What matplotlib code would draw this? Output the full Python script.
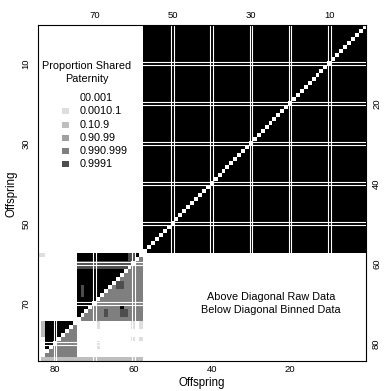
import numpy as np
import matplotlib.pyplot as plt
from matplotlib.colors import ListedColormap, BoundaryNorm
from matplotlib.patches import Rectangle

plt.rcParams['font.family'] = ['Liberation Sans', 'DejaVu Sans']

n_offspring = 84

# full-sib groups (first, last offspring)
groups = [(1, 57), (58, 74), (75, 82)]
group_raw = [1.0, 1.0, 1.0]          # above diagonal
group_binned = [1.0, 0.995, 0.995]   # below diagonal

# offspring with lower raw values against the rest of their group
weak_raw = {60: 0.7, 61: 0.7}

# single raw cells above the diagonal (row, col, value)
raw_cells = [
    (58, 83, 0.13), (58, 84, 0.13),
    (66, 73, 0.7), (67, 73, 0.7), (68, 73, 0.7),
    (75, 83, 0.27), (76, 83, 0.27), (77, 83, 0.27), (78, 83, 0.27),
]

# single binned cells below the diagonal (row, col, value)
binned_cells = [
    (65, 63, 0.9995), (65, 64, 0.9995), (66, 63, 0.9995), (66, 64, 0.9995),
    (72, 67, 0.9995), (73, 67, 0.9995),
    (72, 62, 0.9995), (72, 63, 0.9995), (73, 62, 0.9995), (73, 63, 0.9995),
    (71, 63, 1.0),
    (75, 69, 0.05), (76, 69, 0.05), (80, 69, 0.05), (81, 69, 0.05),
    (75, 60, 0.05), (76, 60, 0.05), (75, 58, 0.05), (76, 58, 0.05),
    (79, 60, 0.05), (79, 58, 0.05),
    (83, 75, 0.995), (83, 76, 0.995), (83, 77, 0.995), (83, 78, 0.995),
    (83, 79, 0.995), (83, 80, 0.995), (83, 81, 0.995), (83, 82, 0.995),
]
# runs of binned values in one row (row, first col, last col, value)
binned_rows = [(84, 58, 83, 0.5)]

# bins of the binned data
bin_edges = [0, 0.001, 0.1, 0.9, 0.99, 0.999, 1.0, 1.0001]
bin_colors = ['white', '#dedede', '#bebebe', '#a0a0a0', '#7f7f7f', '#4e4e4e', 'black']
legend_labels = ['00.001', '0.0010.1', '0.10.9', '0.90.99', '0.990.999', '0.9991']

# rows/cols that show thin white double lines
line_marks = [10, 20, 30, 40, 50, 60, 70, 80]

#%% build the matrices
raw = np.zeros((n_offspring, n_offspring))
binned = np.zeros((n_offspring, n_offspring))
for (a, b), r, bv in zip(groups, group_raw, group_binned):
    raw[a-1:b, a-1:b] = r
    binned[a-1:b, a-1:b] = bv
for k, v in weak_raw.items():
    for a, b in groups:
        if a <= k <= b:
            raw[k-1, a-1:b] = v
            raw[a-1:b, k-1] = v
for i, j, v in raw_cells:
    raw[i-1, j-1] = v
for i, j, v in binned_cells:
    binned[i-1, j-1] = v
for i, j0, j1, v in binned_rows:
    binned[i-1, j0-1:j1] = v

rows, cols = np.indices(raw.shape)
upper = np.ma.masked_where(cols <= rows, raw)
lower = np.ma.masked_where(cols >= rows, binned)

#%% plot
fig = plt.figure(figsize=(3.87, 3.91), dpi=100)
ax = fig.add_axes([0.0969, 0.0760, 0.8501, 0.8593])

edges = np.arange(0.5, n_offspring + 1)
ax.pcolormesh(edges, edges, upper, cmap='gray_r', vmin=0, vmax=1)
ax.pcolormesh(edges, edges, lower, cmap=ListedColormap(bin_colors),
              norm=BoundaryNorm(bin_edges, len(bin_colors)))

for m in line_marks:
    for d in (-0.35, 0.35):
        ax.axvline(m + d, color='white', lw=0.8)
        ax.axhline(m + d, color='white', lw=0.8)

ax.set_xlim(n_offspring + 0.5, 0.5)
ax.set_ylim(n_offspring + 0.5, 0.5)

ax.set_xticks([20, 40, 60, 80])
ax.set_yticks([10, 30, 50, 70])
ax.tick_params(length=0, labelsize=6.8)
ax.tick_params(axis='x', pad=3)
ax.tick_params(axis='y', pad=5)
for t in ax.get_yticklabels():
    t.set_rotation(90)
    t.set_va('center')
top = ax.secondary_xaxis('top')
top.set_xticks([10, 30, 50, 70])
top.tick_params(length=0, labelsize=6.8, pad=3.5)
right = ax.secondary_yaxis('right')
right.set_yticks([20, 40, 60, 80])
right.tick_params(length=0, labelsize=6.8, pad=4)
for t in right.get_yticklabels():
    t.set_rotation(90)
    t.set_va('center')
for s in list(top.spines.values()) + list(right.spines.values()):
    s.set_visible(False)

ax.set_xlabel('Offspring', fontsize=8.3, labelpad=2)
ax.set_ylabel('Offspring', fontsize=8.3, labelpad=3)

# legend
ax.text(0.15, 0.859, 'Proportion Shared\nPaternity', transform=ax.transAxes,
        ha='center', va='center', fontsize=7.8, linespacing=1.4)
for k, (lab, col) in enumerate(zip(legend_labels, bin_colors)):
    y = 0.783 - k * 0.0393
    ax.add_patch(Rectangle((0.074, y - 0.009), 0.021, 0.018, transform=ax.transAxes,
                           facecolor=col, edgecolor='none'))
    ax.text(0.128, y, lab, transform=ax.transAxes, ha='left', va='center', fontsize=7.8)

ax.text(0.71, 0.172, 'Above Diagonal Raw Data\nBelow Diagonal Binned Data',
        transform=ax.transAxes, ha='center', va='center', fontsize=7.8, linespacing=1.4)

fig.savefig('out.png', dpi=100)
